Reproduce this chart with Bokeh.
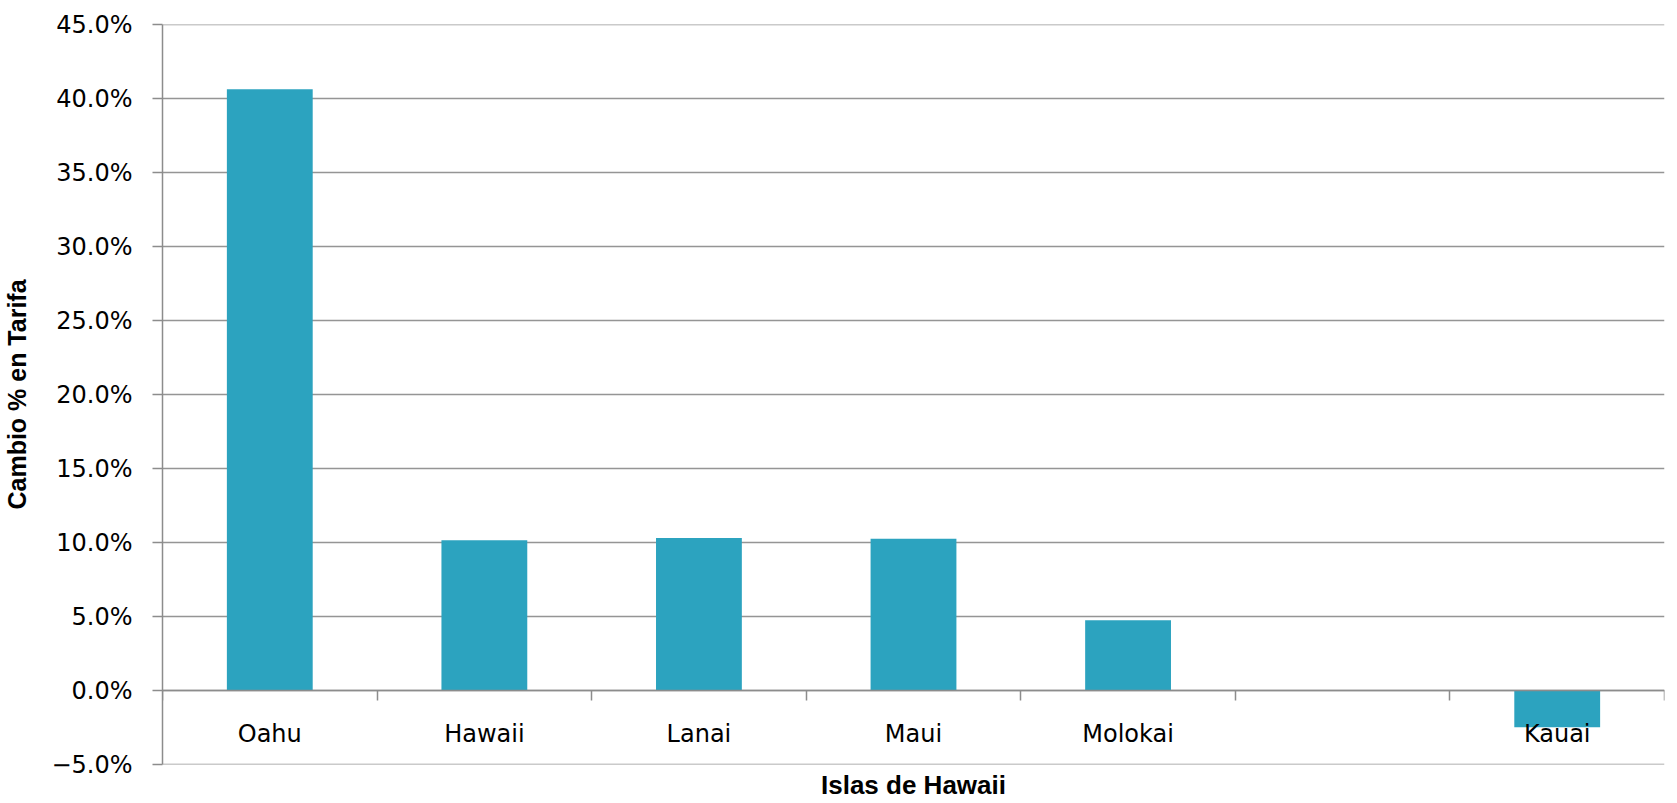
import numpy as np
from bokeh.plotting import figure
from bokeh.models import Range1d, LinearAxis, FixedTicker, ColumnDataSource, Span
from bokeh.embed import file_html
from bokeh.resources import INLINE

# ---- data ----
islands = ["Oahu", "Hawaii", "Lanai", "Maui", "Molokai", "", "Kauai"]
rate_change = [40.62, 10.15, 10.3, 10.25, 4.74, None, -2.48]
y_ticks = [-5, 0, 5, 10, 15, 20, 25, 30, 35, 40, 45]
y_tick_labels = ["\u22125.0%", "0.0%", "5.0%", "10.0%", "15.0%", "20.0%",
                 "25.0%", "30.0%", "35.0%", "40.0%", "45.0%"]
x_title = "Islas de Hawaii"
y_title = "Cambio % en Tarifa"

# ---- derived ----
n = len(islands)
idx = [i for i, v in enumerate(rate_change) if v is not None]
src = ColumnDataSource(dict(
    x=[i + 0.5 for i in idx],
    top=[rate_change[i] for i in idx],
    name=[islands[i] for i in idx],
))

BAR = "#2ca3bf"
GRID = "#959595"
AXC = "#8c8c8c"

p = figure(width=1669, height=802, x_range=Range1d(0, n), y_range=Range1d(y_ticks[0], y_ticks[-1]),
           output_backend="svg", toolbar_location=None, x_axis_type=None,
           min_border_left=155, min_border_right=5, min_border_top=24, min_border_bottom=37)
p.outline_line_color = None
p.background_fill_color = "white"
p.border_fill_color = "white"

p.vbar(x="x", top="top", bottom=0, width=0.4, source=src, fill_color=BAR, line_color=None)

# y axis
ya = p.yaxis[0]
ya.ticker = FixedTicker(ticks=y_ticks)
ya.major_label_overrides = {float(t): l for t, l in zip(y_ticks, y_tick_labels)}
ya.axis_line_color = AXC
ya.axis_line_width = 1.5
ya.major_tick_line_color = AXC
ya.major_tick_line_width = 1.5
ya.major_tick_out = 10
ya.major_tick_in = 0
ya.minor_tick_line_color = None
ya.major_label_text_font = "DejaVu Sans"
ya.major_label_text_font_size = "24px"
ya.major_label_text_color = "black"
ya.major_label_standoff = 20
ya.axis_label = y_title
ya.axis_label_text_font = "Liberation Sans"
ya.axis_label_text_font_style = "bold"
ya.axis_label_text_font_size = "25px"
ya.axis_label_text_color = "black"
ya.axis_label_standoff = 17

p.ygrid.ticker = FixedTicker(ticks=y_ticks)
p.ygrid.grid_line_color = GRID
p.ygrid.grid_line_width = 1.5
p.xgrid.grid_line_color = None
for edge in (y_ticks[0], y_ticks[-1]):
    p.add_layout(Span(location=edge, dimension="width", line_color=GRID, line_width=1.5))

# x axis with boundary ticks, at y = 0
xb = LinearAxis(ticker=FixedTicker(ticks=list(range(n + 1))), fixed_location=0)
xb.axis_line_color = AXC
xb.axis_line_width = 1.5
xb.major_tick_line_color = AXC
xb.major_tick_line_width = 1.5
xb.major_tick_out = 10
xb.major_tick_in = 0
xb.minor_tick_line_color = None
xb.major_label_text_color = None
p.add_layout(xb, "below")

# category labels axis, at y = 0
xl = LinearAxis(ticker=FixedTicker(ticks=[i + 0.5 for i in idx]), fixed_location=0)
xl.major_label_overrides = {float(i + 0.5): islands[i] for i in idx}
xl.axis_line_color = None
xl.major_tick_line_color = None
xl.minor_tick_line_color = None
xl.major_tick_out = 0
xl.major_tick_in = 0
xl.major_label_text_font = "DejaVu Sans"
xl.major_label_text_font_size = "24px"
xl.major_label_text_color = "black"
xl.major_label_standoff = 29
p.add_layout(xl, "below")

# axis title below the frame
xt = LinearAxis(ticker=FixedTicker(ticks=[]))
xt.axis_line_color = None
xt.major_tick_line_color = None
xt.minor_tick_line_color = None
xt.major_tick_out = 0
xt.major_tick_in = 0
xt.minor_tick_out = 0
xt.major_label_standoff = 0
xt.axis_label = x_title
xt.axis_label_text_font = "Liberation Sans"
xt.axis_label_text_font_style = "bold"
xt.axis_label_text_font_size = "26px"
xt.axis_label_text_color = "black"
xt.axis_label_standoff = 5
p.add_layout(xt, "below")

open("out.html", "w").write(file_html(p, INLINE))
